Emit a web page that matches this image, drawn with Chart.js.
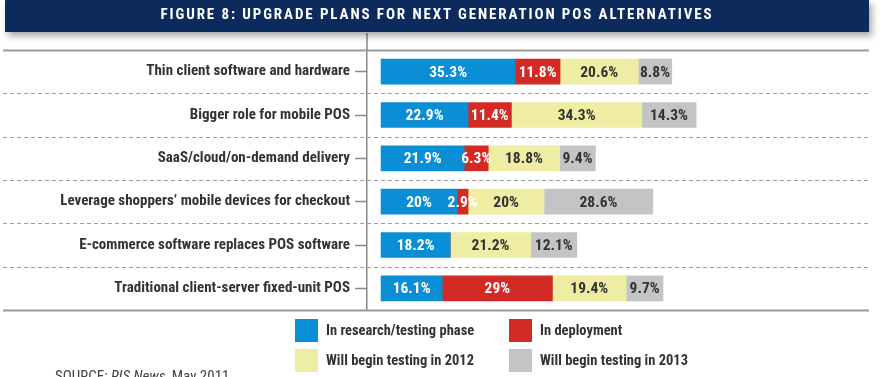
<!DOCTYPE html>
<html>
<head>
<meta charset="utf-8">
<script src="https://cdn.jsdelivr.net/npm/chart.js@4"></script>
<style>
  body { margin: 0; background: #fff; }
  #wrap { position: relative; width: 889px; height: 377px; overflow: hidden;
          font-family: "Roboto Condensed", "DejaVu Sans Condensed", sans-serif; }
  #banner { position: absolute; left: 5px; top: 0; width: 864px; height: 32px; z-index: 2;
            background: #0c2b5c; color: #fff; font-weight: bold; font-size: 15px;
            letter-spacing: 1.9px; text-align: center; line-height: 29px;
            box-shadow: 3px 4px 7px rgba(0,0,0,0.35); }
  #myChart { position: absolute; left: 0; top: 0; }
  .lg { position: absolute; height: 23px; line-height: 23px; font-weight: bold;
        font-size: 14.5px; color: #333; white-space: nowrap; }
  .lg span { display: inline-block; width: 23px; height: 23px; vertical-align: top; margin-right: 8px; }
  #source { position: absolute; left: 55px; top: 367px; font-size: 15px; color: #444; }
</style>
</head>
<body>
<div id="wrap">
  <div id="banner">FIGURE 8: UPGRADE PLANS FOR NEXT GENERATION POS ALTERNATIVES</div>
  <canvas id="myChart" width="889" height="377"></canvas>
  <div id="source">SOURCE: <i>RIS News</i>, May 2011</div>
</div>
<script>
const categories = [
    'Thin client software and hardware',
    'Bigger role for mobile POS',
    'SaaS/cloud/on-demand delivery',
    'Leverage shoppers\u2019 mobile devices for checkout',
    'E-commerce software replaces POS software',
    'Traditional client-server fixed-unit POS'
];
const researchTesting = [35.3, 22.9, 21.9, 20, 18.2, 16.1];
const inDeployment = [11.8, 11.4, 6.3, 2.9, 0, 29];
const testing2012 = [20.6, 34.3, 18.8, 20, 21.2, 19.4];
const testing2013 = [8.8, 14.3, 9.4, 28.6, 12.1, 9.7];

const seriesNames = ['In research/testing phase', 'In deployment', 'Will begin testing in 2012', 'Will begin testing in 2013'];
const seriesColors = ['#0a8fd6', '#d42a26', '#efeda3', '#c4c4c6'];
const labelColors = ['#ffffff', '#ffffff', '#333333', '#333333'];

const FONT = '"Roboto Condensed", "DejaVu Sans Condensed", sans-serif';

// lines across the whole width + vertical line up to the banner
const linesPlugin = {
    id: 'lines',
    beforeDatasetsDraw(chart) {
        const c = chart.ctx;
        const y = chart.scales.y;
        const area = chart.chartArea;
        c.save();
        for (let i = 0; i <= categories.length; i++) {
            const py = Math.round(y.getPixelForValue(i - 0.5)) + 0.5;
            c.beginPath();
            if (i === 0 || i === categories.length) {
                c.setLineDash([]);
                c.lineWidth = 2;
                c.strokeStyle = '#9a9a9a';
            } else {
                c.setLineDash([4, 3]);
                c.lineWidth = 1;
                c.strokeStyle = '#a0a0a0';
            }
            c.moveTo(3, py);
            c.lineTo(area.right, py);
            c.stroke();
        }
        c.setLineDash([]);
        c.lineWidth = 1.5;
        c.strokeStyle = '#888';
        c.beginPath();
        c.moveTo(area.left, 33);
        c.lineTo(area.left, area.top);
        c.stroke();
        c.restore();
    }
};

// value labels in the middle of each segment
const valueLabels = {
    id: 'valueLabels',
    afterDatasetsDraw(chart) {
        const c = chart.ctx;
        c.save();
        c.font = 'bold 15.5px ' + FONT;
        c.textAlign = 'center';
        c.textBaseline = 'middle';
        chart.data.datasets.forEach((ds, di) => {
            const meta = chart.getDatasetMeta(di);
            meta.data.forEach((bar, i) => {
                const v = ds.data[i];
                if (!v) return;
                c.fillStyle = labelColors[di];
                c.fillText(v + '%', (bar.x + bar.base) / 2, bar.y + 1);
            });
        });
        c.restore();
    }
};

const ctx = document.getElementById('myChart');
const myChart = new Chart(ctx, {
    type: 'bar',
    data: {
        labels: categories,
        datasets: [
            { label: seriesNames[0], data: researchTesting, backgroundColor: seriesColors[0] },
            { label: seriesNames[1], data: inDeployment, backgroundColor: seriesColors[1] },
            { label: seriesNames[2], data: testing2012, backgroundColor: seriesColors[2] },
            { label: seriesNames[3], data: testing2013, backgroundColor: seriesColors[3] }
        ]
    },
    options: {
        indexAxis: 'y',
        responsive: false,
        animation: false,
        layout: { padding: { left: 0, right: 20, top: 50, bottom: 67 } },
        datasets: { bar: { barThickness: 25, borderWidth: 0 } },
        scales: {
            x: {
                stacked: true,
                display: false,
                min: -3.7,
                max: 128.4
            },
            y: {
                stacked: true,
                afterFit(scale) { scale.width = 367; },
                grid: {
                    drawOnChartArea: false,
                    drawTicks: true,
                    offset: false,
                    tickLength: 12,
                    tickColor: '#888',
                    tickWidth: 1.5
                },
                border: { display: true, color: '#888', width: 1.5 },
                ticks: {
                    padding: 5,
                    color: '#333',
                    font: { family: FONT, size: 15, weight: 'bold' }
                }
            }
        },
        plugins: {
            legend: { display: false },
            tooltip: { enabled: false }
        }
    },
    plugins: [linesPlugin, valueLabels]
});

// legend, 2 x 2, built from the datasets
const wrap = document.getElementById('wrap');
const legendPos = [[295, 319], [509, 319], [295, 349], [509, 349]];
myChart.data.datasets.forEach((ds, i) => {
    const d = document.createElement('div');
    d.className = 'lg';
    d.style.left = legendPos[i][0] + 'px';
    d.style.top = legendPos[i][1] + 'px';
    d.innerHTML = '<span style="background:' + ds.backgroundColor + '"></span>' + ds.label;
    wrap.appendChild(d);
});
</script>
</body>
</html>
